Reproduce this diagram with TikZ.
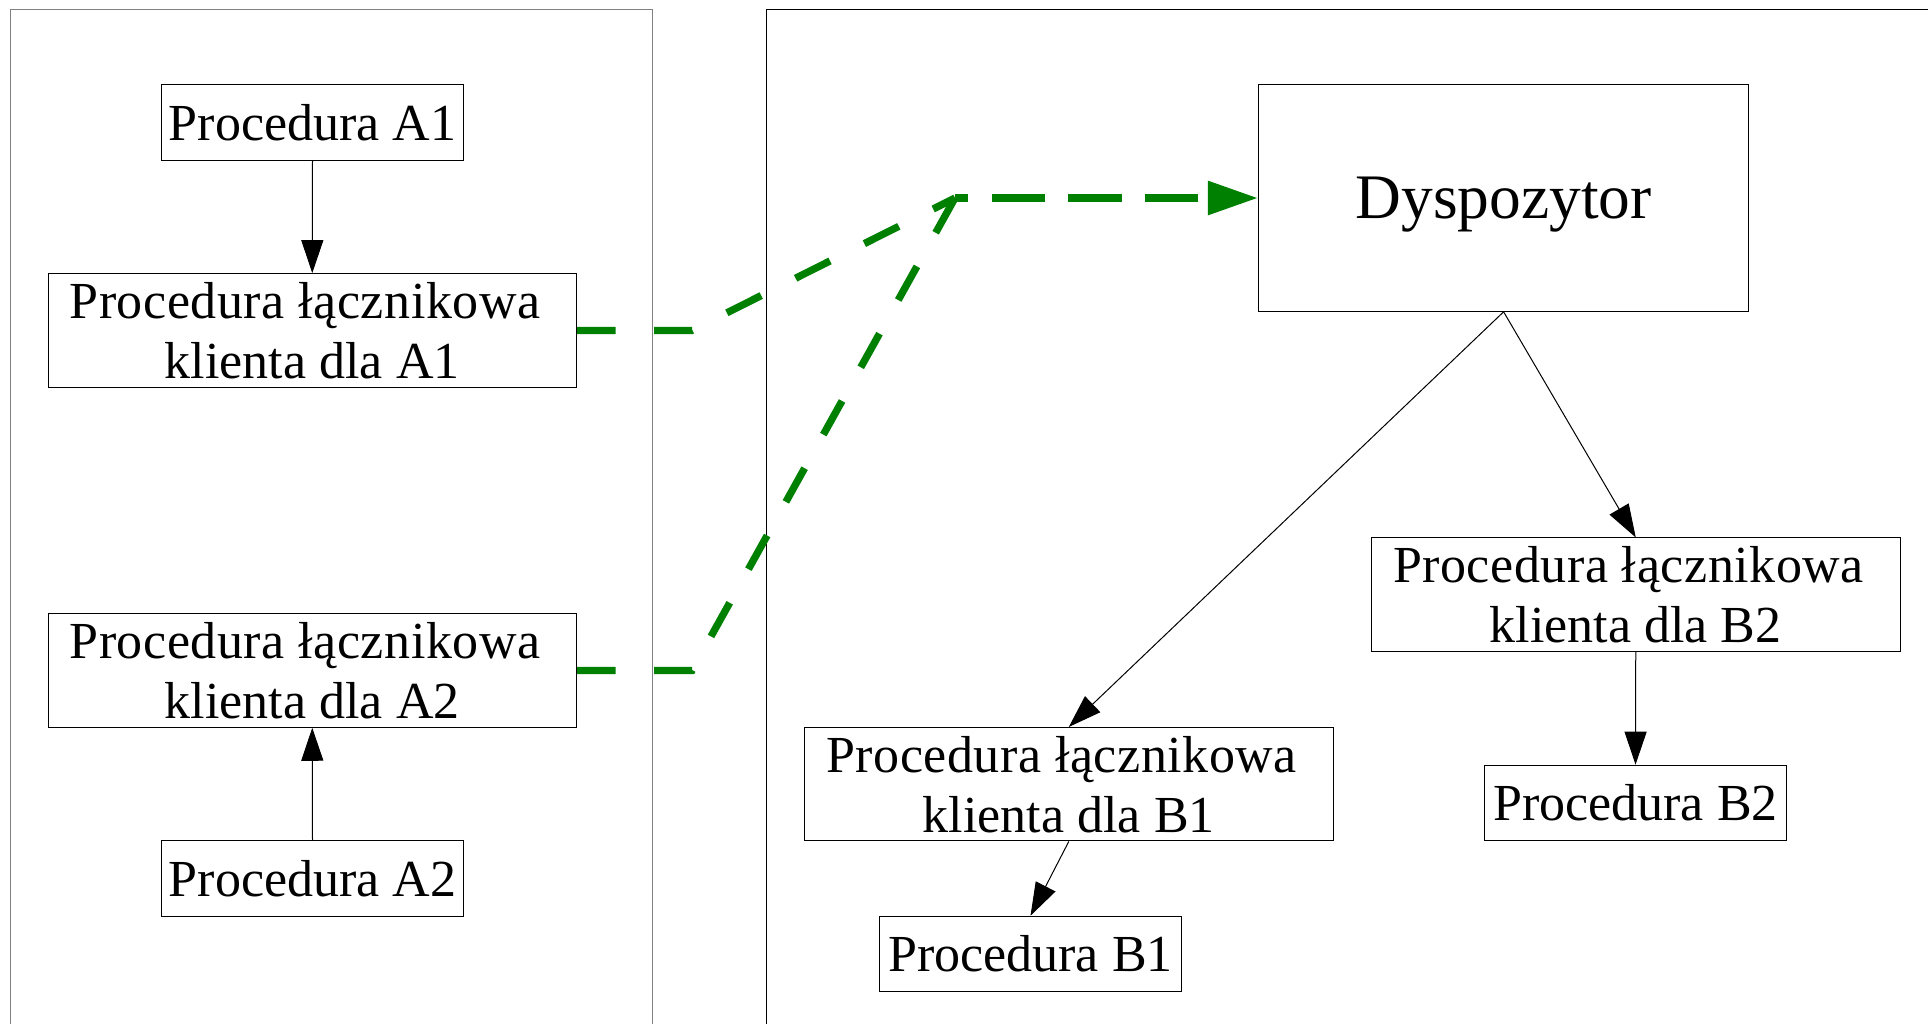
\documentclass[tikz,border=0pt]{standalone}
\usepackage{fontspec}
\setmainfont{Liberation Serif}
\usetikzlibrary{arrows.meta}
\definecolor{linkgreen}{RGB}{0,128,0}
% first line of every stub label, set slightly looser and pushed left
\newcommand\stubhead{{\addfontfeatures{LetterSpace=1.1}Procedura łącznikowa}\kern7.25pt}
\begin{document}
\begin{tikzpicture}[x=0.5pt,y=-0.5pt,
  box/.style={draw=black, line width=0.5pt, inner sep=0pt, align=center,
    font=\fontsize{26pt}{30pt}\selectfont},
  proc/.style={box, minimum width=151pt, minimum height=37.8pt},
  stub/.style={box, minimum width=264.25pt, minimum height=56.75pt},
  call/.style={draw=black, line width=0.5pt, -{Triangle[length=16.5pt,width=11pt]}},
  rpc/.style={draw=linkgreen, line width=3.65pt, dash pattern=on 19.25pt off 19.25pt},
  panel/.style={line width=0.5pt}
]
\useasboundingbox (0,0) rectangle (1928,1024);

% address spaces of the two machines
\draw[panel, draw=black!50] (10.4,1024) |- (652.7,9.3) -- (652.7,1024);
\draw[panel] (766.4,1024) |- (1928,9.3);

% client side
\node[proc] (pa1) at (312.5,122.5) {Procedura A1};
\node[stub] (sa1) at (312.25,330.4) {\stubhead\\klienta dla A1};
\node[stub] (sa2) at (312.25,670.5) {\stubhead\\klienta dla A2};
\node[proc] (pa2) at (312.5,878.5) {Procedura A2};

% server side
\node[box, minimum width=245.25pt, minimum height=113.3pt,
  font=\fontsize{31.7pt}{36pt}\selectfont, text depth=0pt] (disp) at (1503.6,198) {Dyspozytor};
\node[stub] (sb2) at (1635.75,594.7) {\stubhead\\klienta dla B2};
\node[proc] (pb2) at (1635.5,803) {Procedura B2};
\node[stub] (sb1) at (1068.8,784.2) {\stubhead\\klienta dla B1};
\node[proc] (pb1) at (1030.5,954) {Procedura B1};

% local calls
\draw[call] (pa1.south) -- (sa1.north);
\draw[call] (pa2.north) -- (sa2.south);
\draw[call] (disp.south) -- (sb1.north);
\draw[call] (disp.south) -- (sb2.north);
\draw[call] (sb1.south) -- (pb1.north);
\draw[call] (sb2.south) -- (pb2.north);

% remote messages
\coordinate (join) at (955,198);
\draw[rpc] (sa1.east) -- ++(115,0) coordinate (bend1) -- (join);
\draw[rpc] (sa2.east) -- ++(115,0) coordinate (bend2) -- (join);
\draw[rpc, dash pattern=on 26.65pt off 11.65pt, dash phase=20pt,
  -{Triangle[length=25pt,width=16.3pt]}] (join) -- (disp.west);
\end{tikzpicture}
\end{document}
